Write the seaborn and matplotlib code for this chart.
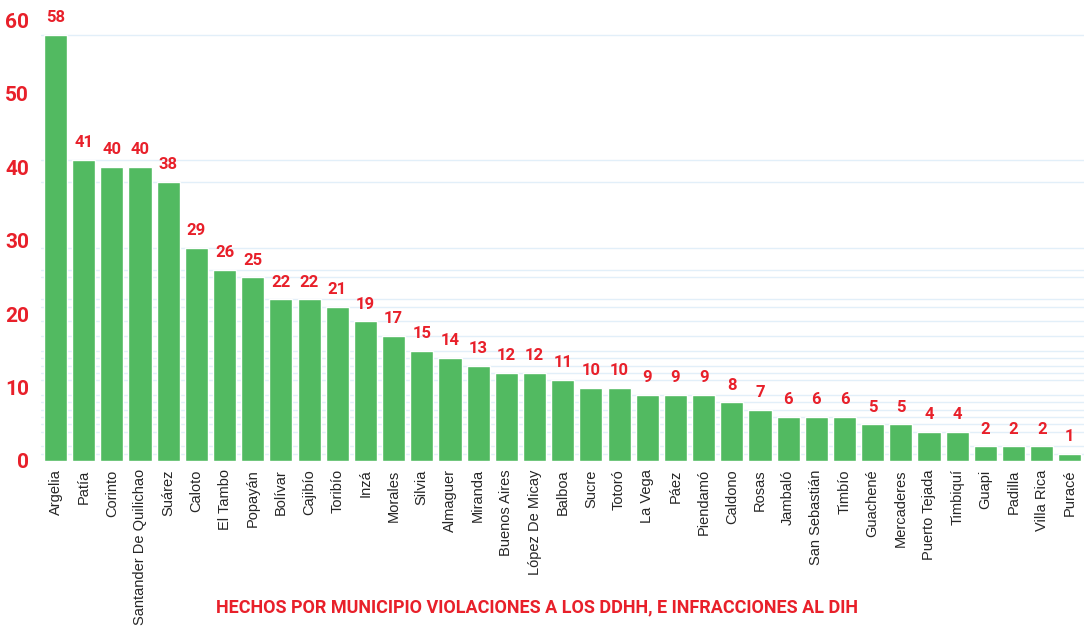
import numpy as np
import pandas as pd
import matplotlib.pyplot as plt
import seaborn as sns

municipios = ["Argelia", "Patía", "Corinto", "Santander De Quilichao", "Suárez",
              "Caloto", "El Tambo", "Popayán", "Bolívar", "Cajibío", "Toribío",
              "Inzá", "Morales", "Silvia", "Almaguer", "Miranda", "Buenos Aires",
              "López De Micay", "Balboa", "Sucre", "Totoró", "La Vega", "Páez",
              "Piendamó", "Caldono", "Rosas", "Jambaló", "San Sebastián", "Timbío",
              "Guachené", "Mercaderes", "Puerto Tejada", "Timbiquí", "Guapi",
              "Padilla", "Villa Rica", "Puracé"]
hechos = [58, 41, 40, 40, 38, 29, 26, 25, 22, 22, 21, 19, 17, 15, 14, 13, 12,
          12, 11, 10, 10, 9, 9, 9, 8, 7, 6, 6, 6, 5, 5, 4, 4, 2, 2, 2, 1]
y_ticks = [0, 10, 20, 30, 40, 50, 60]
titulo = "HECHOS POR MUNICIPIO VIOLACIONES A LOS DDHH, E INFRACCIONES AL DIH"

verde = "#52ba61"
rojo = "#e8202a"
cond = ["Roboto", "DejaVu Sans"]

sns.set_style("white")
plt.rcParams["font.family"] = ["Liberation Sans", "DejaVu Sans"]

df = pd.DataFrame({"municipio": municipios, "hechos": hechos})

fig = plt.figure(figsize=(10.84, 6.26), dpi=100)
ax = fig.add_axes([0.0382, 0.2636, 0.9618, 0.704])

sns.barplot(data=df, x="municipio", y="hechos", color=verde, width=0.82,
            saturation=1, ax=ax, zorder=3)

# faint lines at each distinct value
ax.set_yticks(sorted(set(hechos)), minor=True)
ax.grid(which="minor", axis="y", color="#e2eff9", lw=1, zorder=0)
ax.grid(which="major", axis="y", visible=False)

ax.set_ylim(0, 60)
ax.set_xlim(-0.5, len(municipios) - 0.5)
ax.set_yticks(y_ticks)
ax.set_yticklabels([str(t) for t in y_ticks], color=rojo, fontsize=15,
                   fontweight="bold", family=cond)
ax.tick_params(axis="y", which="both", length=0, pad=9)
ax.tick_params(axis="x", length=0, pad=6, labelsize=10.5, rotation=90)
ax.set_xlabel("")
ax.set_ylabel("")
for s in ax.spines.values():
    s.set_visible(False)

for i, v in enumerate(hechos):
    ax.annotate(str(v), (i, v), xytext=(0, 7), textcoords="offset points",
                ha="center", va="bottom", color=rojo, fontsize=12,
                fontweight="bold", family=cond)

fig.text(0.495, 0.03, titulo, ha="center", va="center", color=rojo,
         fontsize=13, fontweight="bold", family=cond)

fig.savefig("out.png", dpi=100)
